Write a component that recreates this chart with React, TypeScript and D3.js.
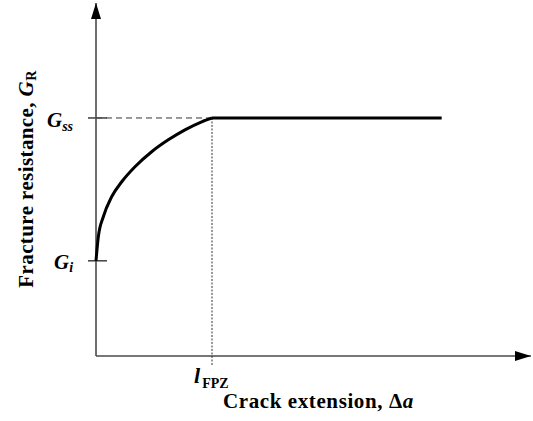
import * as d3 from "d3";
import { useEffect, useRef } from "react";

// Fracture resistance curve (normalised: lFPZ = 1, Gss = 1)
const curveX = [0, 0.02, 0.063, 0.135, 0.222, 0.336, 0.48, 0.623, 0.767, 0.911, 1];
const curveY = [0.4, 0.501, 0.585, 0.669, 0.732, 0.795, 0.858, 0.908, 0.95, 0.984, 1];
const plateauX = [1, 2.98];
const G_I = 0.4;
const G_SS = 1;
const L_FPZ = 1;

const App = () => {
  const ref = useRef<SVGSVGElement | null>(null);

  useEffect(() => {
    const width = 533;
    const height = 421;
    const svg = d3.select(ref.current);
    svg.selectAll("*").remove();

    const x = d3.scaleLinear().domain([0, 3.75]).range([96, 531]);
    const y = d3.scaleLinear().domain([0, 1.483]).range([356, 3]);

    const axisColor = "#4a4a4a";
    const font = "'Liberation Serif', 'Times New Roman', serif";

    // arrow markers
    const defs = svg.append("defs");
    defs
      .append("marker")
      .attr("id", "arrow")
      .attr("viewBox", "0 0 16 10")
      .attr("refX", 16)
      .attr("refY", 5)
      .attr("markerWidth", 16)
      .attr("markerHeight", 10)
      .attr("markerUnits", "userSpaceOnUse")
      .attr("orient", "auto")
      .append("path")
      .attr("d", "M0,0 L16,5 L0,10 Z")
      .attr("fill", "#000");

    // y axis
    svg
      .append("line")
      .attr("x1", x(0))
      .attr("y1", y(0))
      .attr("x2", x(0))
      .attr("y2", y(1.483))
      .attr("stroke", axisColor)
      .attr("stroke-width", 1.6)
      .attr("marker-end", "url(#arrow)");

    // x axis
    svg
      .append("line")
      .attr("x1", x(0))
      .attr("y1", y(0))
      .attr("x2", x(3.75))
      .attr("y2", y(0))
      .attr("stroke", axisColor)
      .attr("stroke-width", 1.6)
      .attr("marker-end", "url(#arrow)");

    // guide lines
    svg
      .append("line")
      .attr("x1", x(0))
      .attr("y1", y(G_SS))
      .attr("x2", x(L_FPZ))
      .attr("y2", y(G_SS))
      .attr("stroke", "#333")
      .attr("stroke-width", 1)
      .attr("stroke-dasharray", "6,4");

    svg
      .append("line")
      .attr("x1", x(L_FPZ))
      .attr("y1", y(G_SS))
      .attr("x2", x(L_FPZ))
      .attr("y2", y(0) + 10)
      .attr("stroke", "#333")
      .attr("stroke-width", 1)
      .attr("stroke-dasharray", "2,1.5");

    // ticks for Gss and Gi
    [G_SS, G_I].forEach((g) => {
      svg
        .append("line")
        .attr("x1", x(0) - 8)
        .attr("x2", x(0) + 11)
        .attr("y1", y(g))
        .attr("y2", y(g))
        .attr("stroke", axisColor)
        .attr("stroke-width", 1.6);
    });

    // R-curve
    const pts: [number, number][] = curveX.map((d, i) => [d, curveY[i]]);
    const line = d3
      .line<[number, number]>()
      .x((d) => x(d[0]))
      .y((d) => y(d[1]))
      .curve(d3.curveMonotoneX);
    svg
      .append("path")
      .attr("d", line(pts))
      .attr("fill", "none")
      .attr("stroke", "#000")
      .attr("stroke-width", 3);

    svg
      .append("path")
      .attr("d", line(plateauX.map((d) => [d, G_SS] as [number, number])))
      .attr("fill", "none")
      .attr("stroke", "#000")
      .attr("stroke-width", 3);

    // labels
    const gss = svg
      .append("text")
      .attr("x", x(0) - 49)
      .attr("y", y(G_SS) + 9)
      .attr("font-family", font)
      .attr("font-weight", "bold")
      .attr("font-style", "italic")
      .attr("font-size", 21);
    gss.append("tspan").text("G");
    gss.append("tspan").attr("font-size", 14).attr("dy", 4).text("ss");

    const gi = svg
      .append("text")
      .attr("x", x(0) - 42)
      .attr("y", y(G_I) + 8)
      .attr("font-family", font)
      .attr("font-weight", "bold")
      .attr("font-style", "italic")
      .attr("font-size", 21);
    gi.append("tspan").text("G");
    gi.append("tspan").attr("font-size", 14).attr("dy", 3).text("i");

    const lf = svg
      .append("text")
      .attr("x", x(L_FPZ) - 18)
      .attr("y", y(0) + 27)
      .attr("font-family", font)
      .attr("font-weight", "bold")
      .attr("font-size", 22);
    lf.append("tspan").attr("font-style", "italic").text("l");
    lf.append("tspan").attr("font-size", 14).attr("dx", 2).attr("dy", 5).text("FPZ");

    const xl = svg
      .append("text")
      .attr("x", 223)
      .attr("y", 408)
      .attr("font-family", font)
      .attr("font-weight", "bold")
      .attr("font-size", 21)
      .attr("letter-spacing", 0.6);
    xl.append("tspan").text("Crack extension, ");
    xl.append("tspan").text("Δ");
    xl.append("tspan").attr("font-style", "italic").text("a");

    const yl = svg
      .append("text")
      .attr("transform", `translate(33, ${(70 + 288) / 2}) rotate(-90)`)
      .attr("text-anchor", "middle")
      .attr("font-family", font)
      .attr("font-weight", "bold")
      .attr("font-size", 21)
      .attr("letter-spacing", 0.4);
    yl.append("tspan").text("Fracture resistance, ");
    yl.append("tspan").attr("font-style", "italic").text("G");
    yl.append("tspan").attr("font-size", 14).attr("dy", 3).text("R");

    svg.attr("width", width).attr("height", height);
  }, []);

  return (
    <svg
      ref={ref}
      width={533}
      height={421}
      style={{ position: "absolute", left: 0, top: 0, background: "#fff" }}
    />
  );
};

export default App;
